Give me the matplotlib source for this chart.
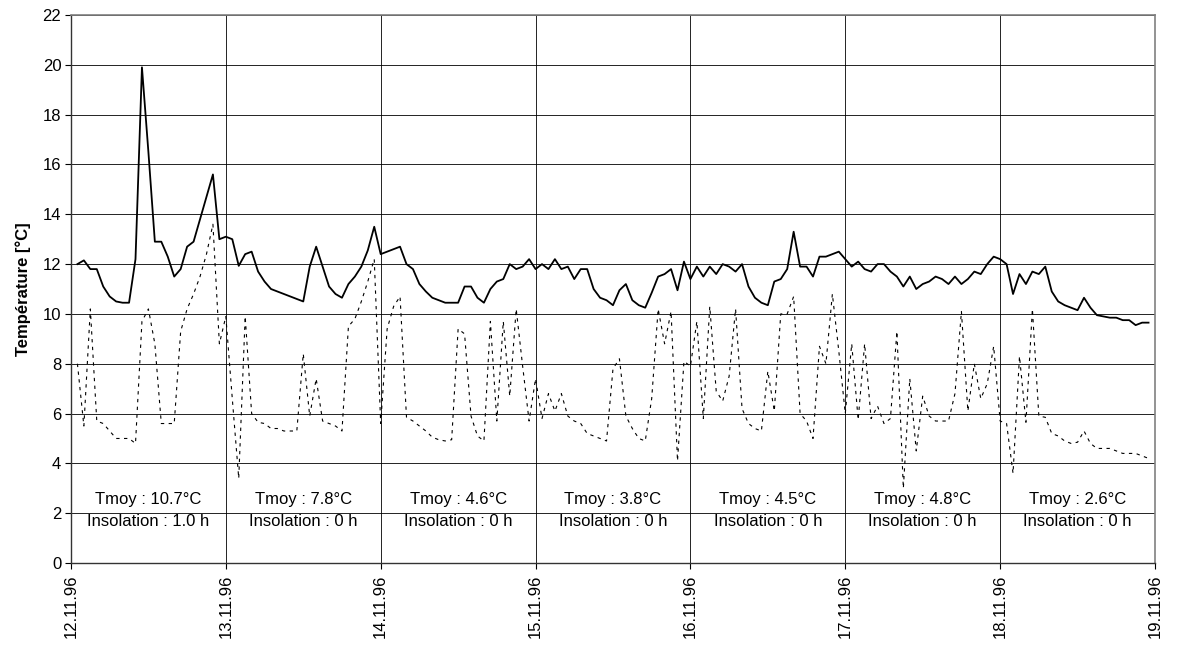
import numpy as np
import matplotlib.pyplot as plt

# hourly readings, 12.11.96 01:00 -> 18.11.96 23:00
t_int = [
    12.0, 12.15, 11.8, 11.8, 11.1, 10.7, 10.5, 10.45, 10.45, 12.2, 19.9, 16.5,
    12.9, 12.9, 12.3, 11.5, 11.8, 12.7, 12.9, 13.8, 14.7, 15.6, 13.0, 13.1,
    13.0, 11.93, 12.4, 12.5, 11.7, 11.3, 11.0, 10.9, 10.8, 10.7, 10.6, 10.5,
    11.9, 12.7, 11.9, 11.1, 10.8, 10.65, 11.2, 11.5, 11.9, 12.55, 13.5, 12.4,
    12.5, 12.6, 12.7, 12.0, 11.8, 11.2, 10.9, 10.65, 10.55, 10.45, 10.45, 10.45,
    11.1, 11.1, 10.65, 10.45, 11.0, 11.3, 11.4, 12.0, 11.8, 11.9, 12.2, 11.8,
    12.0, 11.8, 12.2, 11.8, 11.9, 11.4, 11.8, 11.8, 11.0, 10.65, 10.55, 10.35,
    10.95, 11.2, 10.55, 10.35, 10.25, 10.85, 11.5, 11.6, 11.8, 10.95, 12.1, 11.4,
    11.9, 11.5, 11.9, 11.6, 12.0, 11.9, 11.7, 12.0, 11.1, 10.65, 10.45, 10.35,
    11.3, 11.4, 11.8, 13.3, 11.9, 11.9, 11.5, 12.3, 12.3, 12.4, 12.5, 12.2,
    11.9, 12.1, 11.8, 11.7, 12.0, 12.0, 11.7, 11.5, 11.1, 11.5, 11.0, 11.2,
    11.3, 11.5, 11.4, 11.2, 11.5, 11.2, 11.4, 11.7, 11.6, 12.0, 12.3, 12.2,
    12.0, 10.8, 11.6, 11.2, 11.7, 11.6, 11.9, 10.9, 10.5, 10.35, 10.25, 10.15,
    10.65, 10.25, 9.95, 9.9, 9.85, 9.85, 9.75, 9.75, 9.55, 9.65, 9.65,
]

t_ext = [
    8.0, 5.5, 10.2, 5.7, 5.6, 5.3, 5.0, 5.0, 5.0, 4.8, 9.7, 10.2,
    8.8, 5.6, 5.6, 5.6, 9.3, 10.2, 10.8, 11.5, 12.4, 13.6, 8.8, 9.9,
    6.6, 3.4, 9.9, 6.0, 5.65, 5.6, 5.4, 5.4, 5.3, 5.3, 5.3, 8.4,
    5.9, 7.4, 5.7, 5.6, 5.5, 5.3, 9.5, 9.8, 10.5, 11.3, 12.2, 5.6,
    9.4, 10.3, 10.7, 5.85, 5.7, 5.5, 5.3, 5.05, 4.95, 4.9, 4.95, 9.4,
    9.2, 5.9, 5.1, 4.9, 9.7, 5.7, 9.7, 6.7, 10.2, 7.9, 5.7, 7.4,
    5.8, 6.8, 6.1, 6.8, 5.9, 5.7, 5.6, 5.2, 5.1, 5.0, 4.9, 7.8,
    8.2, 5.9, 5.4, 5.0, 4.9, 6.6, 10.2, 8.8, 10.1, 4.1, 8.1, 7.9,
    9.7, 5.8, 10.3, 6.9, 6.5, 7.5, 10.2, 6.2, 5.6, 5.4, 5.3, 7.7,
    6.1, 10.0, 10.0, 10.7, 6.0, 5.7, 5.0, 8.7, 8.0, 10.8, 8.5, 6.0,
    8.8, 5.75, 8.8, 5.8, 6.3, 5.6, 5.8, 9.3, 3.0, 7.4, 4.5, 6.7,
    5.9, 5.7, 5.7, 5.7, 6.8, 10.1, 6.1, 8.0, 6.6, 7.2, 8.7, 5.7,
    5.6, 3.6, 8.3, 5.65, 10.2, 5.9, 5.85, 5.2, 5.1, 4.9, 4.8, 4.85,
    5.3, 4.8, 4.6, 4.6, 4.6, 4.5, 4.4, 4.4, 4.4, 4.3, 4.2,
]

dates = ['12.11.96', '13.11.96', '14.11.96', '15.11.96',
         '16.11.96', '17.11.96', '18.11.96', '19.11.96']
tmoy = ['10.7', '7.8', '4.6', '3.8', '4.5', '4.8', '2.6']
insolation = ['1.0', '0', '0', '0', '0', '0', '0']

plt.rcParams['font.family'] = ['Liberation Sans', 'DejaVu Sans']

hours = np.arange(1, len(t_int) + 1)

fig = plt.figure(figsize=(11.77, 6.53), dpi=100)
ax = fig.add_axes([0.0603, 0.1378, 0.9210, 0.8392])

ax.set_xlim(0, 168)
ax.set_ylim(0, 22)
ax.set_yticks(np.arange(0, 23, 2))
ax.set_xticks(np.arange(0, 169, 24))
ax.set_xticklabels(dates, rotation=90)
ax.tick_params(axis='both', labelsize=12, length=4, width=0.8, color='black')
ax.tick_params(axis='x', pad=4)
ax.tick_params(axis='y', pad=3)

ax.grid(True, color='black', linewidth=0.6)
ax.set_axisbelow(True)

for side in ['left', 'bottom']:
    ax.spines[side].set_color('#333333')
    ax.spines[side].set_linewidth(1.0)
for side in ['top', 'right']:
    ax.spines[side].set_color('#808080')
    ax.spines[side].set_linewidth(1.2)

ax.plot(hours, t_ext, color='black', linewidth=0.8, linestyle=(0, (3, 4)))
ax.plot(hours, t_int, color='black', linewidth=1.3)

ax.set_ylabel('Température [°C]', fontsize=12, fontweight='bold', labelpad=8)

for i in range(len(tmoy)):
    xc = 24 * i + 12
    ax.text(xc, 2.55, f'Tmoy : {tmoy[i]}°C', ha='center', va='center', fontsize=12)
    ax.text(xc, 1.65, f'Insolation : {insolation[i]} h', ha='center', va='center', fontsize=12)

fig.savefig('out.png', dpi=100)
